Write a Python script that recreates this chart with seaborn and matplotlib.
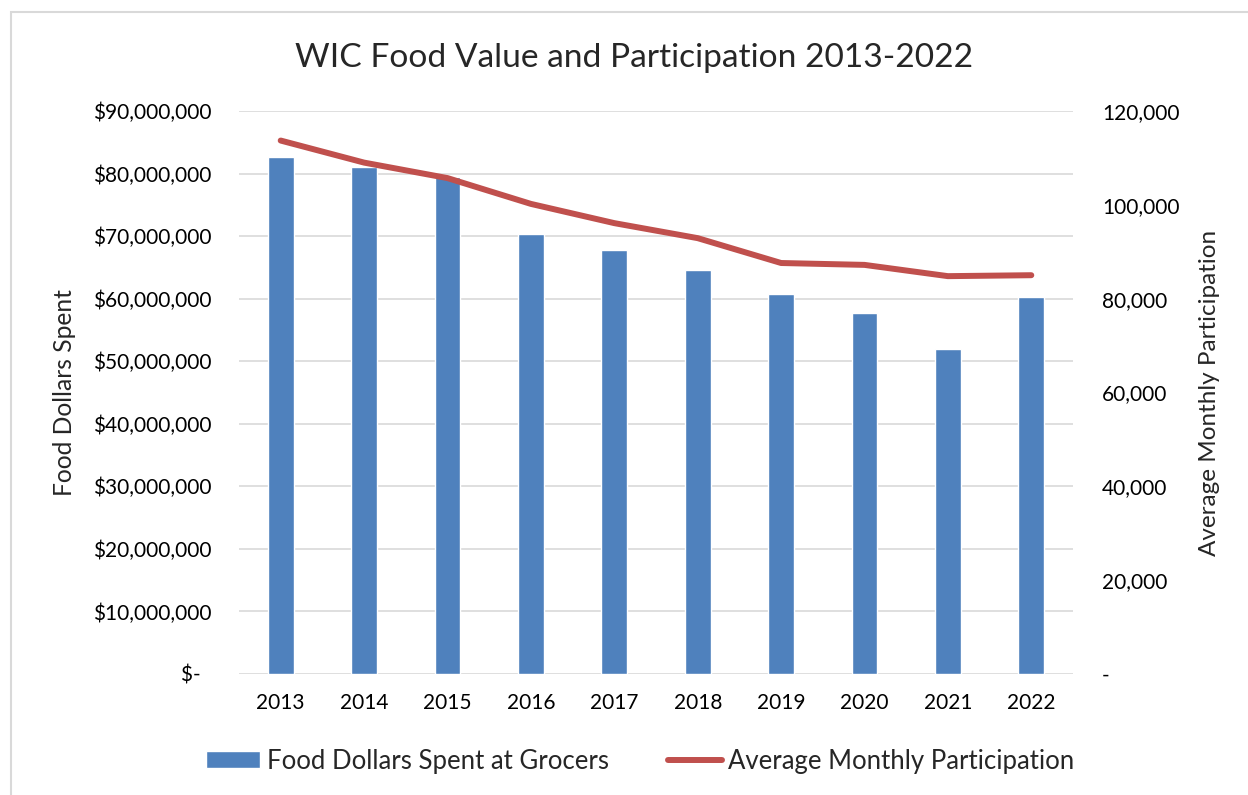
import matplotlib
matplotlib.use("Agg")
import matplotlib.pyplot as plt
import matplotlib.ticker as mticker
from matplotlib.patches import Rectangle
import pandas as pd
import seaborn as sns

# Data
years = ["2013", "2014", "2015", "2016", "2017", "2018", "2019", "2020", "2021", "2022"]
food_dollars = [82.7e6, 81.0e6, 79.5e6, 70.3e6, 67.7e6, 64.6e6, 60.75e6, 57.7e6, 51.9e6, 60.3e6]
participation = [113700, 109000, 105700, 100200, 96100, 92900, 87600, 87200, 84800, 85000]

bar_label = "Food Dollars Spent at Grocers"
line_label = "Average Monthly Participation"

df = pd.DataFrame({"year": years, "dollars": food_dollars, "participants": participation})

sns.set_style("white")
plt.rcParams["font.family"] = ["Lato", "DejaVu Sans"]

fig = plt.figure(figsize=(12.48, 7.95), dpi=100)
ax = fig.add_axes([239 / 1248, 1 - 674 / 795, (1073 - 239) / 1248, (674 - 111) / 795])

# ---------------- BARS ---------------- #
sns.barplot(data=df, x="year", y="dollars", color="#4F81BD", saturation=1,
            width=0.31, ax=ax, label=bar_label, zorder=2)
ax.set_xlim(-0.5, len(years) - 0.5)
ax.set_ylim(0, 90e6)
ax.yaxis.set_major_locator(mticker.MultipleLocator(10e6))
ax.yaxis.set_major_formatter(mticker.FuncFormatter(
    lambda v, p: "$-\u2002" if v == 0 else f"${v:,.0f}"))
ax.grid(axis="y", color="#D9D9D9", linewidth=1.2, zorder=0)
ax.set_axisbelow(True)
for s in ax.spines.values():
    s.set_visible(False)
ax.tick_params(axis="both", length=0, labelsize=15, colors="black")
ax.tick_params(axis="y", pad=20)
ax.tick_params(axis="x", pad=14)
ax.set_xlabel("")
ax.set_ylabel("Food Dollars Spent", fontsize=17.7, labelpad=12)

# ---------------- LINE ---------------- #
ax2 = ax.twinx()
sns.lineplot(data=df, x="year", y="participants", color="#C0504D", linewidth=4.3,
             ax=ax2, label=line_label, solid_capstyle="round")
ax2.set_ylim(0, 120000)
ax2.yaxis.set_major_locator(mticker.MultipleLocator(20000))
ax2.yaxis.set_major_formatter(mticker.FuncFormatter(
    lambda v, p: "-" if v == 0 else f"{v:,.0f}"))
for s in ax2.spines.values():
    s.set_visible(False)
ax2.tick_params(axis="y", length=0, labelsize=15, colors="black", pad=21)
ax2.set_ylabel("Average Monthly Participation", fontsize=17.5, labelpad=14)
ax2.set_xlabel("")

# ---------------- LEGEND ---------------- #
h1, l1 = ax.get_legend_handles_labels()
h2, l2 = ax2.get_legend_handles_labels()
if ax.get_legend():
    ax.get_legend().remove()
if ax2.get_legend():
    ax2.get_legend().remove()
fig.legend(h1 + h2, l1 + l2, loc="center", bbox_to_anchor=(0.513, 1 - 761 / 795),
           ncol=2, frameon=False, fontsize=18.5, handlelength=2.1, handleheight=0.6,
           handletextpad=0.25, columnspacing=2.3)

fig.suptitle("WIC Food Value and Participation 2013-2022", fontsize=24.1,
             x=634.5 / 1248, y=1 - 58 / 795, va="center")

# light frame like the chart area border
fig.patches.append(Rectangle((11 / 1248, -0.1), 1.2, 1 - 12 / 795 + 0.1,
                             transform=fig.transFigure, fill=False,
                             edgecolor="#D9D9D9", linewidth=1.5))

fig.savefig("out.png", dpi=100)
